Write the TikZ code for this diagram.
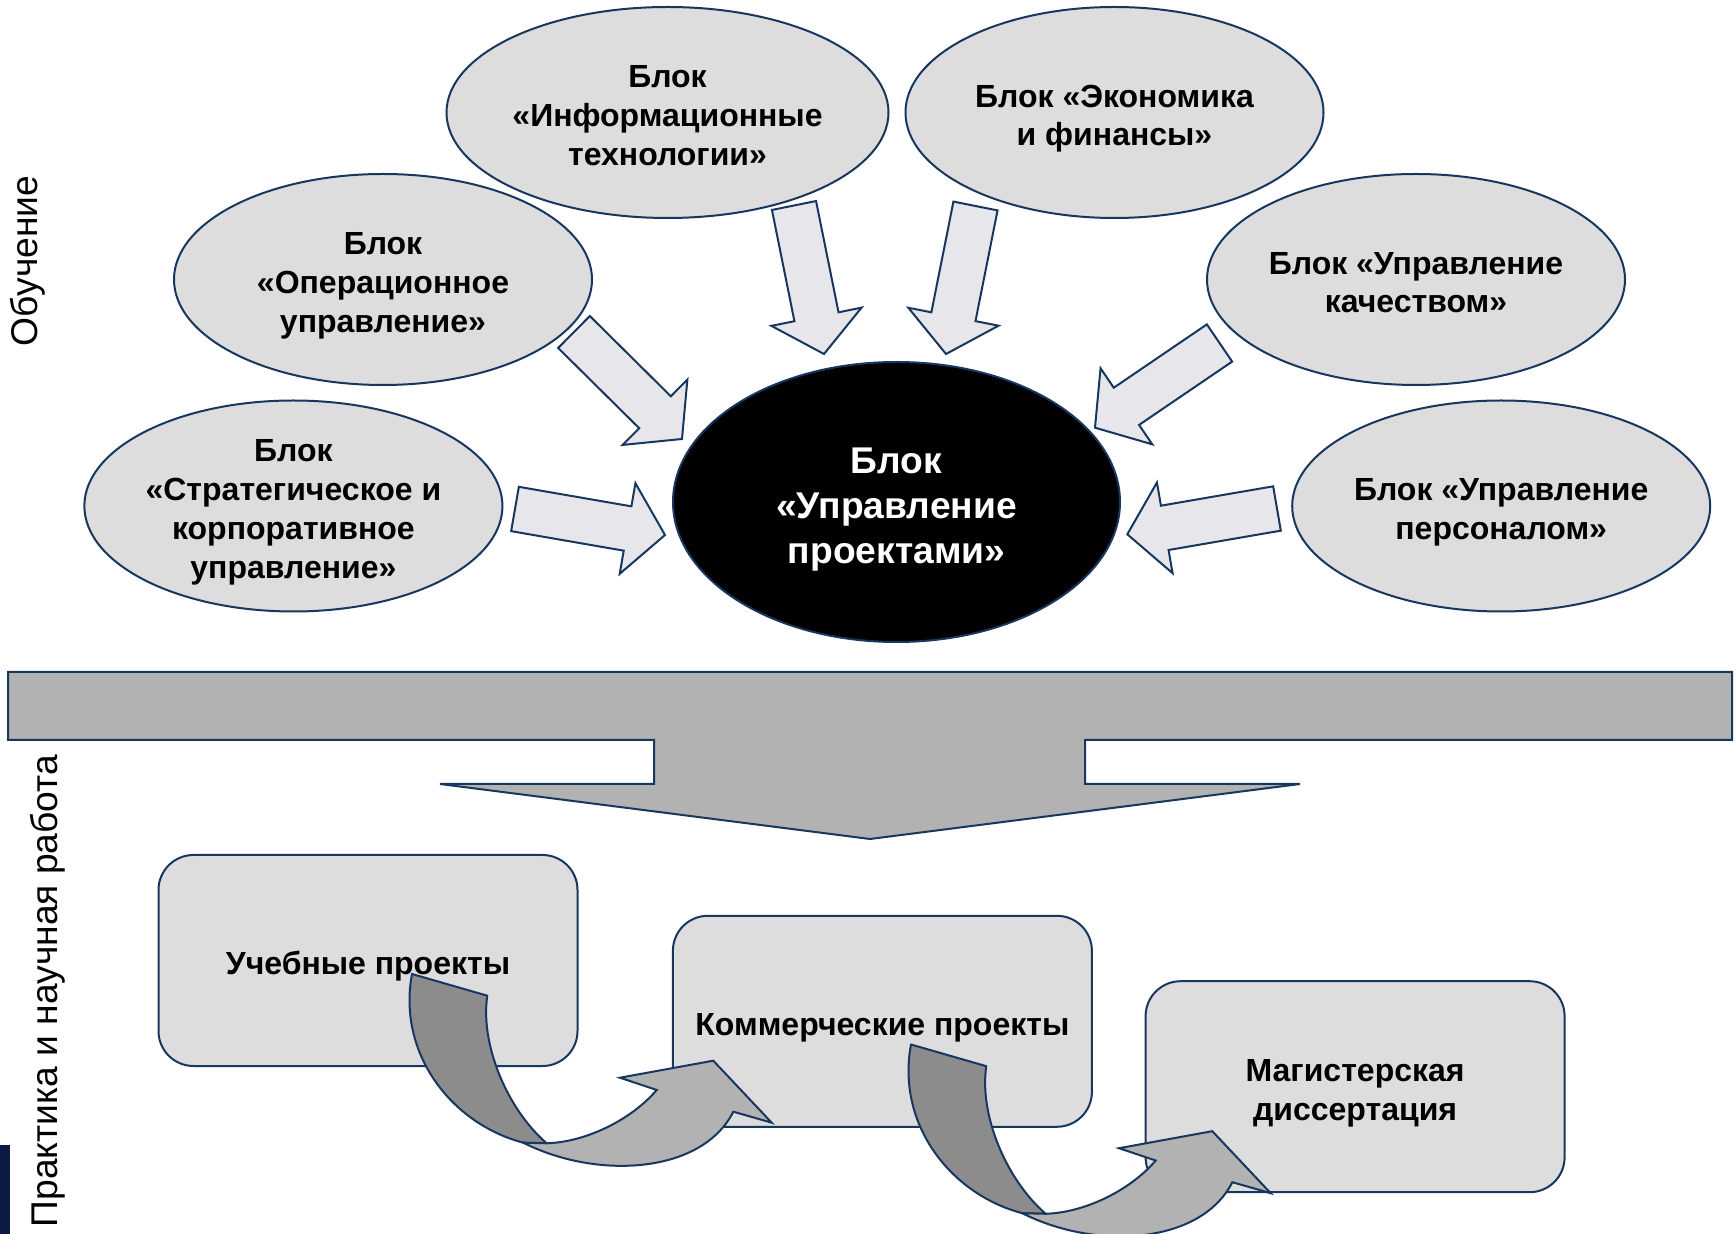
\documentclass[tikz,border=0pt]{standalone}
\usepackage{fontspec}
\setmainfont{Liberation Sans}
\usetikzlibrary{shapes.geometric,calc}

\definecolor{edgeblue}{RGB}{23,55,94}
\definecolor{blockgray}{RGB}{221,221,221}
\definecolor{arrowgray}{RGB}{230,230,235}
\definecolor{flowgray}{RGB}{178,178,178}
\definecolor{backgray}{RGB}{140,140,140}
\definecolor{navybar}{RGB}{10,26,66}

% fixed line boxes, so that the text sits as in the slide
\newcommand{\linetop}{\rule{0pt}{1.125em}}
\newcommand{\linebot}{\rule[-0.25em]{0pt}{0.25em}}

\tikzset{
  block/.style={ellipse, draw=edgeblue, fill=blockgray, line width=1pt, inner sep=0pt,
    inner ysep=-5pt, minimum width=209pt, minimum height=105.5pt, align=center,
    font=\bfseries\fontsize{16}{19.4}\selectfont},
  core/.style={block, fill=black, text=white, minimum width=223.5pt, minimum height=140pt,
    font=\bfseries\fontsize{18.6}{22.5}\selectfont},
  stage/.style={rectangle, rounded corners=17.5pt, draw=edgeblue, fill=blockgray, line width=1pt,
    minimum width=209.5pt, minimum height=105.5pt, align=center,
    font=\bfseries\fontsize{16}{19.4}\selectfont},
  fatarrow/.style={draw=edgeblue, fill=arrowgray, line width=1pt, line join=miter},
  bigarrow/.style={draw=edgeblue, fill=flowgray, line width=1pt, line join=miter},
  curveback/.style={draw=edgeblue, fill=backgray, line width=1pt, line join=round},
  curvefront/.style={draw=edgeblue, fill=flowgray, line width=1pt, line join=miter},
  sidelabel/.style={rotate=90, font=\fontsize{18.6}{21}\selectfont},
  pics/curvedarrow/.style={code={
    \draw[curveback] (0,0) -- (75.3,21.7) .. controls (68,70) and (95,135) .. (134.7,169.3)
      -- (111.3,168.7) .. controls (40,150) and (-15,80) .. (0,0) -- cycle;
    \draw[curvefront] (111.3,168.7) .. controls (185,206) and (290,200) .. (321.3,137.7)
      -- (359.7,148.7) -- (301.3,86.7) -- (208,103.7) -- (244.7,116)
      .. controls (220,145) and (175,168) .. (134.7,169.3) -- cycle;
  }}
}

% block arrow from #1 (tail) to #2 (tip)
\newcommand{\blockarrow}[2]{%
  \coordinate (#1-h) at ($(#2)!19pt!(#1)$);
  \draw[fatarrow] ($(#1)!11.25pt!90:(#2)$) -- ($(#1-h)!11.25pt!90:(#2)$)
    -- ($(#1-h)!23pt!90:(#2)$) -- (#2) -- ($(#1-h)!23pt!-90:(#2)$)
    -- ($(#1-h)!11.25pt!-90:(#2)$) -- ($(#1)!11.25pt!-90:(#2)$) -- cycle;
}

\begin{document}
\begin{tikzpicture}[x=0.5pt, y=-0.5pt]
\useasboundingbox (0,0) rectangle (1736,1234);

% blocks of the programme
\node[block, minimum width=221pt] (info) at (667.5,112.5)
  {\linetop Блок\\«Информационные\\технологии»\linebot};
\node[block] (econ)     at (1114.5,112.5) {\linetop Блок «Экономика\\и финансы»\linebot};
\node[block] (ops)      at (383,279.5)    {\linetop Блок\\«Операционное\\управление»\linebot};
\node[block] (quality)  at (1416,279.5)   {\linetop Блок «Управление\\качеством»\linebot};
\node[block] (strategy) at (293.4,506)
  {\linetop Блок\\«Стратегическое и\\корпоративное\\управление»\linebot};
\node[block] (staff)    at (1501.2,506)   {\linetop Блок «Управление\\персоналом»\linebot};
\node[core]  (pm)       at (896.5,502)    {\linetop Блок\\«Управление\\проектами»\linebot};

% arrows into the core block
\coordinate (ops-from)      at (574,332);    \coordinate (ops-to)      at (682,439);
\coordinate (info-from)     at (794,205.5);  \coordinate (info-to)     at (824,354);
\coordinate (econ-from)     at (975.5,206);  \coordinate (econ-to)     at (946,354);
\coordinate (quality-from)  at (1219.5,343); \coordinate (quality-to)  at (1095,427.7);
\coordinate (strategy-from) at (515,509);    \coordinate (strategy-to) at (665,535);
\coordinate (staff-from)    at (1277,508.5); \coordinate (staff-to)    at (1127.3,534.3);
\blockarrow{ops-from}{ops-to}
\blockarrow{info-from}{info-to}
\blockarrow{econ-from}{econ-to}
\blockarrow{quality-from}{quality-to}
\blockarrow{strategy-from}{strategy-to}
\blockarrow{staff-from}{staff-to}

% wide arrow down
\draw[bigarrow] (8,672) -- (1732,672) -- (1732,740) -- (1085,740) -- (1085,784) -- (1300,784)
  -- (870,839) -- (440,784) -- (654,784) -- (654,740) -- (8,740) -- cycle;

% practice stages
\node[stage] (study)    at (368,960.5)     {\linetop Учебные проекты\linebot};
\node[stage] (commerce) at (882.4,1021.3)  {\linetop Коммерческие проекты\linebot};
\node[stage] (thesis)   at (1355.1,1086.7) {\linetop Магистерская\\диссертация\linebot};

\pic at (412,974) {curvedarrow};
\pic at (911,1044.5) {curvedarrow};

% side labels
\node[sidelabel] (learn)    at (27.5,261) {Обучение};
\node[sidelabel] (practice) at (47.5,991) {Практика и научная работа};
\fill[navybar] (0,1145) rectangle (10,1234);
\end{tikzpicture}
\end{document}
